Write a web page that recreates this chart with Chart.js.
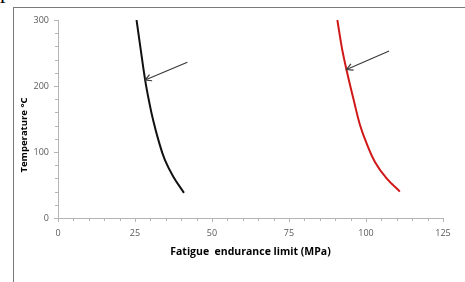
<!DOCTYPE html>
<html>
<head>
<meta charset="utf-8">
<script src="https://cdn.jsdelivr.net/npm/chart.js@4.4.1/dist/chart.umd.min.js"></script>
<style>
  html,body{margin:0;padding:0;background:#fff;}
  #wrap{position:relative;width:465px;height:282px;overflow:hidden;}
  #frame{position:absolute;left:13px;top:7px;width:500px;height:320px;border-left:1.5px solid #7a7a7a;border-top:1.5px solid #7a7a7a;}
  #frag{position:absolute;left:0px;top:-22px;font:22px "Liberation Serif",serif;color:#000;}
  canvas{position:absolute;left:0;top:0;}
</style>
</head>
<body>
<div id="wrap">
  <div id="frag">p</div>
  <div id="frame"></div>
  <canvas id="c" width="465" height="282"></canvas>
</div>
<script>
// values
const xTicks=[0,25,50,75,100,125];
const yTicks=[0,100,200,300];
const blackLimit=[25.5,26.8,28.3,29.6,30.9,32.6,34.7,37.4,40.9];
const blackTemp=[300,257,209,176,148,118,88,63,38];
const redLimit=[90.7,92.2,93.7,96.1,98.05,100.2,102.9,106.7,111.0];
const redTemp=[300,257,224,177,141,113,85,60,40];
// arrows: [fromLimit, fromTemp, toLimit, toTemp]
const arrows=[[42.0,236,28.3,209],[107.5,253,93.7,225]];

const AXIS='#b5b5b5';
const LABEL='#595959';
const FONT='"Open Sans", "Liberation Sans", sans-serif';

const pts=(xs,ys)=>xs.map((x,i)=>({x,y:ys[i]}));

const extras={
  id:'extras',
  afterDraw(chart){
    const {ctx,chartArea}=chart;
    const xs=chart.scales.x, ys=chart.scales.y;
    ctx.save();
    // minor ticks
    ctx.strokeStyle=AXIS;
    ctx.lineWidth=1;
    for(let v=0;v<=125;v+=5){
      if(v%25===0) continue;
      const px=Math.round(xs.getPixelForValue(v))+0.5;
      ctx.beginPath();ctx.moveTo(px,chartArea.bottom);ctx.lineTo(px,chartArea.bottom+3);ctx.stroke();
    }
    for(let v=0;v<=300;v+=20){
      if(v%100===0) continue;
      const py=Math.round(ys.getPixelForValue(v))+0.5;
      ctx.beginPath();ctx.moveTo(chartArea.left,py);ctx.lineTo(chartArea.left-3,py);ctx.stroke();
    }
    // arrows
    ctx.strokeStyle='#3a3a3a';
    ctx.lineWidth=1.2;
    arrows.forEach(a=>{
      const x0=xs.getPixelForValue(a[0]), y0=ys.getPixelForValue(a[1]);
      const x1=xs.getPixelForValue(a[2]), y1=ys.getPixelForValue(a[3]);
      const ang=Math.atan2(y1-y0,x1-x0);
      ctx.beginPath();ctx.moveTo(x0,y0);ctx.lineTo(x1,y1);ctx.stroke();
      const L=7, sp=0.5;
      ctx.beginPath();
      ctx.moveTo(x1-L*Math.cos(ang-sp),y1-L*Math.sin(ang-sp));
      ctx.lineTo(x1,y1);
      ctx.lineTo(x1-L*Math.cos(ang+sp),y1-L*Math.sin(ang+sp));
      ctx.stroke();
    });
    // y title
    ctx.fillStyle='#000';
    ctx.font='bold 9.5px '+FONT;
    ctx.textAlign='center';
    ctx.textBaseline='middle';
    ctx.translate(24,135);
    ctx.rotate(-Math.PI/2);
    ctx.fillText('Temperature °C',0,0);
    ctx.restore();
  }
};

new Chart(document.getElementById('c').getContext('2d'),{
  type:'scatter',
  data:{datasets:[
    {data:pts(blackLimit,blackTemp),showLine:true,borderColor:'#111',borderWidth:2,pointRadius:0,tension:0.4},
    {data:pts(redLimit,redTemp),showLine:true,borderColor:'#d01818',borderWidth:2,pointRadius:0,tension:0.4}
  ]},
  options:{
    responsive:false,
    animation:false,
    layout:{padding:{left:0,top:20,right:22,bottom:20}},
    plugins:{legend:{display:false},tooltip:{enabled:false}},
    scales:{
      x:{
        type:'linear',min:0,max:125,
        afterBuildTicks(s){s.ticks=xTicks.map(v=>({value:v}));},
        afterFit(s){s.height=44;},
        grid:{display:true,drawOnChartArea:false,drawTicks:true,tickLength:4,color:AXIS},
        border:{color:AXIS,width:1},
        ticks:{color:LABEL,font:{family:FONT,size:9},padding:6,maxRotation:0},
        title:{display:true,text:'Fatigue  endurance limit (MPa)',color:'#000',font:{family:FONT,size:10.5,weight:'bold'},padding:{top:7}}
      },
      y:{
        type:'linear',min:0,max:300,
        afterBuildTicks(s){s.ticks=yTicks.map(v=>({value:v}));},
        afterFit(s){s.width=58;},
        grid:{display:true,drawOnChartArea:false,drawTicks:true,tickLength:4,color:AXIS},
        border:{color:AXIS,width:1},
        ticks:{color:LABEL,font:{family:FONT,size:9},padding:5}
      }
    }
  },
  plugins:[extras]
});
</script>
</body>
</html>
